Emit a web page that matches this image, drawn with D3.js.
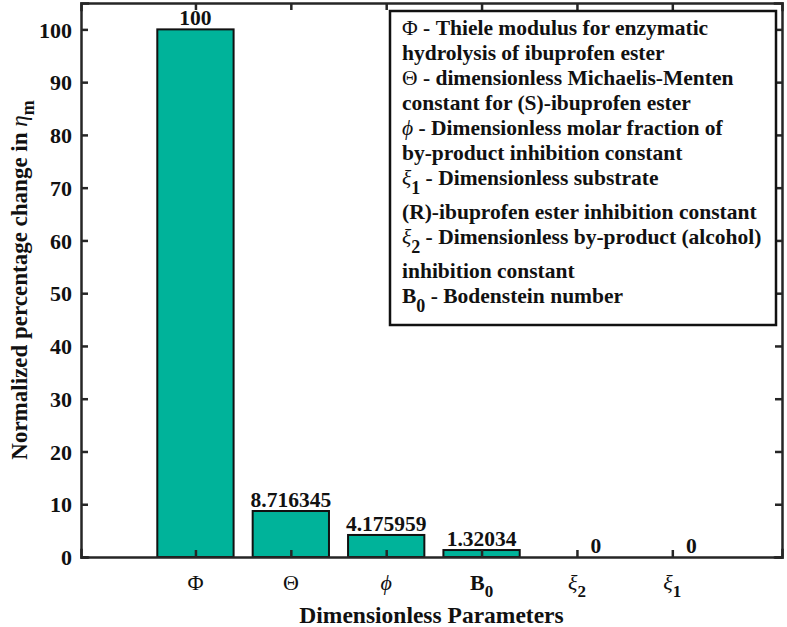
<!DOCTYPE html>
<html>
<head>
<meta charset="utf-8">
<script src="https://cdn.jsdelivr.net/npm/d3@7"></script>
<style>
  body { margin: 0; background: #fff; }
  svg text { font-family: "Liberation Serif", "Tinos", "Times New Roman", "DejaVu Serif", serif; font-weight: bold; }
</style>
</head>
<body>
<div id="chart"></div>
<script>
// parameter keys and sensitivity values
const params = ["Phi", "Theta", "phi", "B0", "xi2", "xi1"];
const values = [100, 8.716345, 4.175959, 1.32034, 0, 0];
const valueLabels = ["100", "8.716345", "4.175959", "1.32034", "0", "0"];
const yTicks = [0, 10, 20, 30, 40, 50, 60, 70, 80, 90, 100];

// tick label glyphs: [main, subscript, italic]
const tickGlyphs = {
  Phi: ["\u03A6", "", false],
  Theta: ["\u0398", "", false],
  phi: ["\u03D5", "", true],
  B0: ["B", "0", false],
  xi2: ["\u03BE", "2", true],
  xi1: ["\u03BE", "1", true]
};

// legend lines: [symbol, subscript, italic symbol, rest of line]
const legendLines = [
  ["\u03A6", "", false, " - Thiele modulus for enzymatic"],
  ["", "", false, "hydrolysis of ibuprofen ester"],
  ["\u0398", "", false, " - dimensionless Michaelis-Menten"],
  ["", "", false, "constant for (S)-ibuprofen ester"],
  ["\u03D5", "", true, " - Dimensionless molar fraction of"],
  ["", "", false, "by-product inhibition constant"],
  ["\u03BE", "1", true, " - Dimensionless substrate"],
  ["", "", false, "(R)-ibuprofen ester inhibition constant"],
  ["\u03BE", "2", true, " - Dimensionless by-product (alcohol)"],
  ["", "", false, "inhibition constant"],
  ["B", "0", false, " - Bodenstein number"]
];

const width = 787, height = 627;
const margin = { top: 3, right: 5, bottom: 70, left: 81 };
const innerW = width - margin.left - margin.right;
const innerH = height - margin.top - margin.bottom;
const fontFam = "'Liberation Serif', Tinos, 'Times New Roman', 'DejaVu Serif', serif";

const svg = d3.select("#chart").append("svg")
  .attr("width", width)
  .attr("height", height)
  .attr("font-family", fontFam);

const g = svg.append("g")
  .attr("transform", `translate(${margin.left},${margin.top})`);

const x = d3.scaleLinear().domain([-0.2, 7.15]).range([0, innerW]);
const y = d3.scaleLinear().domain([0, 105]).range([innerH, 0]);
const barW = x(0.8) - x(0);
const axisColor = "#262626";
const tickLen = 7;

// bars
g.selectAll(".bar")
  .data(values)
  .enter()
  .append("rect")
  .attr("class", "bar")
  .attr("x", (d, i) => x(i + 1) - barW / 2)
  .attr("y", d => y(d))
  .attr("width", barW)
  .attr("height", d => innerH - y(d))
  .attr("fill", "#00b39a")
  .attr("stroke", d => d > 0 ? "#111" : "none")
  .attr("stroke-width", 2);

// value labels above bars (zero labels sit a bit to the right in the original)
g.selectAll(".vlabel")
  .data(values)
  .enter()
  .append("text")
  .attr("class", "vlabel")
  .attr("x", (d, i) => x(i + 1) + (d === 0 ? 19 : 0))
  .attr("y", d => y(d) - 4)
  .attr("text-anchor", "middle")
  .attr("font-size", 21.5)
  .attr("fill", "#111")
  .text((d, i) => valueLabels[i]);

// axes (ticks inward on all four sides, MATLAB style)
const xTickVals = params.map((p, i) => i + 1);

const bottomAxis = d3.axisBottom(x).tickValues(xTickVals).tickSize(-tickLen).tickFormat("");
const topAxis = d3.axisTop(x).tickValues(xTickVals).tickSize(-tickLen).tickFormat("");
const leftAxis = d3.axisLeft(y).tickValues(yTicks).tickSize(-tickLen).tickPadding(9).tickFormat(d3.format("d"));
const rightAxis = d3.axisRight(y).tickValues(yTicks).tickSize(-tickLen).tickFormat("");

function styleAxis(sel) {
  sel.attr("font-family", fontFam);
  sel.select(".domain").attr("stroke", axisColor).attr("stroke-width", 2.5);
  sel.selectAll(".tick line").attr("stroke", axisColor).attr("stroke-width", 2.5);
}

g.append("g").attr("transform", `translate(0,${innerH})`).call(bottomAxis).call(styleAxis);
g.append("g").call(topAxis).call(styleAxis);
g.append("g").attr("transform", `translate(${innerW},0)`).call(rightAxis).call(styleAxis);
const yAxisG = g.append("g").call(leftAxis).call(styleAxis);
yAxisG.selectAll(".tick text")
  .attr("font-size", 22)
  .attr("dy", "0.35em")
  .attr("fill", "#111");

g.selectAll(".domain").attr("stroke-linecap", "square");

// x tick labels with greek symbols and subscripts
const xLab = g.selectAll(".xlab")
  .data(params)
  .enter()
  .append("text")
  .attr("class", "xlab")
  .attr("x", (d, i) => x(i + 1))
  .attr("y", innerH + 33)
  .attr("text-anchor", "middle")
  .attr("font-size", 22)
  .attr("fill", "#111");

xLab.append("tspan")
  .attr("font-style", d => tickGlyphs[d][2] ? "italic" : "normal")
  .attr("font-weight", d => d === "B0" ? "bold" : "normal")
  .text(d => tickGlyphs[d][0]);
xLab.append("tspan")
  .attr("dy", 7)
  .attr("font-size", 17)
  .text(d => tickGlyphs[d][1]);

// axis titles
g.append("text")
  .attr("x", innerW / 2)
  .attr("y", innerH + 66)
  .attr("text-anchor", "middle")
  .attr("font-size", 23.5)
  .attr("fill", "#111")
  .text("Dimensionless Parameters");

const yTitle = g.append("text")
  .attr("transform", `translate(${-54},${innerH / 2}) rotate(-90)`)
  .attr("text-anchor", "middle")
  .attr("font-size", 23)
  .attr("fill", "#111");
yTitle.append("tspan").text("Normalized percentage change in ");
yTitle.append("tspan").attr("font-style", "italic").attr("font-weight", "normal").text("\u03B7");
yTitle.append("tspan").attr("dy", 7).attr("font-size", 18).text("m");

// legend box
const legend = svg.append("g").attr("transform", "translate(390,11)");
legend.append("rect")
  .attr("width", 386)
  .attr("height", 314)
  .attr("fill", "#fff")
  .attr("stroke", "#111")
  .attr("stroke-width", 2.5);

let ly = 24;
legendLines.forEach(ln => {
  const t = legend.append("text")
    .attr("x", 12)
    .attr("y", ly)
    .attr("font-size", 21.5)
    .attr("fill", "#111");
  if (ln[0]) {
    t.append("tspan")
      .attr("font-style", ln[2] ? "italic" : "normal")
      .attr("font-weight", ln[0] === "B" ? "bold" : "normal")
      .text(ln[0]);
  }
  if (ln[1]) {
    t.append("tspan").attr("dy", 9).attr("font-size", 18).text(ln[1]);
    t.append("tspan").attr("dy", -9).text(ln[3]);
  } else {
    t.append("tspan").text(ln[3]);
  }
  ly += ln[1] ? 34 : 25;
});
</script>
</body>
</html>
